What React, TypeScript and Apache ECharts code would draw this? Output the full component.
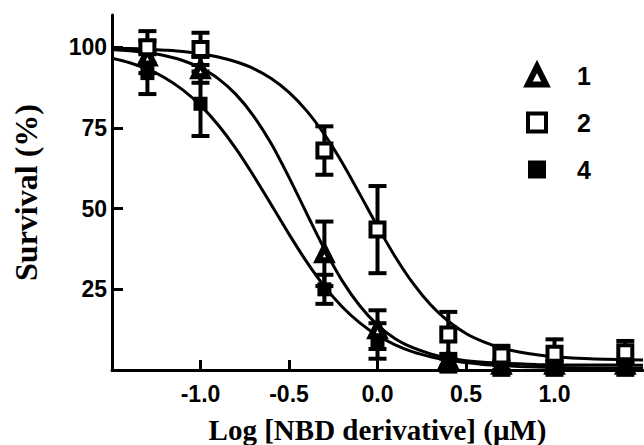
import React, { useEffect, useRef } from "react";
import * as echarts from "echarts";

// Measured doses (log µM)
const doseX = [-1.3, -1.0, -0.3, 0.0, 0.4, 0.7, 1.0, 1.4];

// Survival (%) mean and error per compound
const survival1 = [97, 93, 36, 12.5, 3, 1.5, 1.5, 1.5];
const error1 = [5, 4, 10, 6, 2, 1.5, 1.5, 1.5];
const survival2 = [100, 99.5, 68, 43.5, 11, 4.5, 5, 5.5];
const error2 = [5, 5, 7.5, 13.5, 7, 3, 4.5, 3.5];
const survival4 = [92, 82.5, 25, 9, 1.5, 0.5, 0.5, 0.5];
const error4 = [6.5, 10, 4.5, 5.5, 2, 2, 2, 2];

// Fitted curves
const fitX = [
  -1.5, -1.4, -1.3, -1.2, -1.1, -1.0, -0.9, -0.8, -0.7, -0.6, -0.5, -0.4, -0.3, -0.2, -0.1,
  0.0, 0.1, 0.2, 0.3, 0.4, 0.5, 0.6, 0.7, 0.8, 0.9, 1.0, 1.2, 1.5,
];
const fit1 = [
  99.3, 98.9, 98.3, 97.4, 95.9, 93.6, 90.3, 85.4, 78.7, 70.1, 59.7, 48.5, 37.5, 27.7, 19.9,
  13.9, 9.7, 6.9, 5.0, 3.7, 2.9, 2.4, 2.1, 1.9, 1.7, 1.6, 1.55, 1.5,
];
const fit2 = [
  99.7, 99.6, 99.4, 99.1, 98.7, 98.0, 97.0, 95.5, 93.4, 90.3, 86.0, 80.3, 73.0, 64.3, 54.5,
  44.5, 35.1, 26.9, 20.2, 15.1, 11.3, 8.7, 6.8, 5.6, 4.7, 4.1, 3.5, 3.1,
];
const fit4 = [
  96.6, 95.2, 93.2, 90.5, 86.8, 82.0, 75.9, 68.6, 60.2, 51.2, 42.1, 33.5, 25.9, 19.6, 14.6,
  10.7, 7.8, 5.6, 4.1, 3.0, 2.3, 1.7, 1.4, 1.1, 0.9, 0.8, 0.65, 0.55,
];

// Axis ticks
const xTicks = [-1.0, -0.5, 0.0, 0.5, 1.0];
const yTicks = [25, 50, 75, 100];

const SANS = "'Liberation Sans', Arial, Helvetica, sans-serif";
const SERIF = "'Liberation Serif', 'Times New Roman', Times, serif";

export default function App() {
  const ref = useRef<HTMLDivElement>(null);

  useEffect(() => {
    document.body.style.margin = "0";
    if (!ref.current) return;
    const chart = echarts.init(ref.current, null, { renderer: "svg" });

    const pairs = (ys: number[]) => fitX.map((x, i) => [x, ys[i]]);
    const pts = (ys: number[]) => doseX.map((x, i) => [x, ys[i]]);
    const errs = (ys: number[], es: number[]) => doseX.map((x, i) => [x, ys[i], es[i]]);

    const renderErr = (params: any, api: any) => {
      const x = api.value(0);
      const y = api.value(1);
      const e = api.value(2);
      const top = api.coord([x, y + e]);
      const bot = api.coord([x, y - e]);
      const hw = 9;
      const style = { stroke: "#000", lineWidth: 4, fill: "none" };
      return {
        type: "group",
        children: [
          { type: "line", shape: { x1: top[0], y1: top[1], x2: bot[0], y2: bot[1] }, style },
          { type: "line", shape: { x1: top[0] - hw, y1: top[1], x2: top[0] + hw, y2: top[1] }, style },
          { type: "line", shape: { x1: bot[0] - hw, y1: bot[1], x2: bot[0] + hw, y2: bot[1] }, style },
        ],
      };
    };

    const curve = (name: string, ys: number[]) => ({
      name,
      type: "line",
      data: pairs(ys),
      showSymbol: false,
      smooth: 0.3,
      lineStyle: { color: "#000", width: 3 },
      z: 2,
      silent: true,
    });

    const errSeries = (name: string, ys: number[], es: number[]) => ({
      name,
      type: "custom",
      data: errs(ys, es),
      encode: { x: 0, y: 1 },
      renderItem: renderErr,
      z: 3,
      silent: true,
    });

    const openStyle = { color: "#fff", borderColor: "#000", borderWidth: 6, opacity: 1 };
    const fillStyle = { color: "#000", borderColor: "#000", borderWidth: 0, opacity: 1 };

    const option: any = {
      animation: false,
      backgroundColor: "#fff",
      grid: {
        left: 112,
        right: 1,
        top: 15,
        bottom: 75,
        containLabel: false,
        outerBoundsMode: "none",
      },
      legend: {
        data: [
          { name: "1", itemStyle: { borderWidth: 6 } },
          { name: "2", itemStyle: { borderWidth: 4 } },
          { name: "4" },
        ],
        orient: "vertical",
        left: 520,
        top: 58,
        itemWidth: 18,
        itemHeight: 18,
        itemGap: 22,
        selectedMode: false,
        textStyle: {
          fontFamily: SANS,
          fontWeight: "bold",
          fontSize: 25,
          color: "#000",
          padding: [0, 0, 0, 26],
        },
      },
      xAxis: {
        type: "value",
        min: -1.5,
        max: 1.5,
        interval: 0.5,
        name: "Log [NBD derivative] (\u03BCM)",
        nameLocation: "middle",
        nameGap: 45,
        nameTextStyle: {
          fontFamily: SERIF,
          fontWeight: "bold",
          fontSize: 29,
          color: "#000",
        },
        axisLine: { onZero: false, lineStyle: { color: "#000", width: 3 } },
        axisTick: {
          inside: true,
          length: 10,
          customValues: xTicks,
          lineStyle: { color: "#000", width: 3 },
        },
        axisLabel: {
          customValues: xTicks,
          formatter: (v: number) => v.toFixed(1),
          fontFamily: SANS,
          fontWeight: "bold",
          fontSize: 23,
          color: "#000",
          margin: 12,
        },
        splitLine: { show: false },
      },
      yAxis: {
        type: "value",
        min: 0,
        max: 110,
        interval: 25,
        name: "Survival (%)",
        nameLocation: "middle",
        nameGap: 70,
        nameRotate: 90,
        nameTextStyle: {
          fontFamily: SERIF,
          fontWeight: "bold",
          fontSize: 32,
          color: "#000",
        },
        axisLine: { show: true, onZero: false, lineStyle: { color: "#000", width: 3 } },
        axisTick: {
          show: true,
          inside: true,
          length: 11,
          customValues: yTicks,
          lineStyle: { color: "#000", width: 3 },
        },
        axisLabel: {
          customValues: yTicks,
          fontFamily: SANS,
          fontWeight: "bold",
          fontSize: 23,
          color: "#000",
          margin: 5,
        },
        splitLine: { show: false },
      },
      series: [
        curve("fit1", fit1),
        curve("fit2", fit2),
        curve("fit4", fit4),
        errSeries("err1", survival1, error1),
        errSeries("err2", survival2, error2),
        errSeries("err4", survival4, error4),
        {
          name: "1",
          type: "scatter",
          data: pts(survival1),
          symbol: "triangle",
          symbolSize: 13,
          itemStyle: openStyle,
          z: 4,
        },
        {
          name: "2",
          type: "scatter",
          data: pts(survival2),
          symbol: "rect",
          symbolSize: 14,
          itemStyle: { ...openStyle, borderWidth: 4 },
          z: 4,
        },
        {
          name: "4",
          type: "scatter",
          data: pts(survival4),
          symbol: "rect",
          symbolSize: 14,
          itemStyle: fillStyle,
          z: 5,
        },
      ],
    };

    chart.setOption(option);
    return () => chart.dispose();
  }, []);

  return <div ref={ref} style={{ width: 644, height: 445 }} />;
}
